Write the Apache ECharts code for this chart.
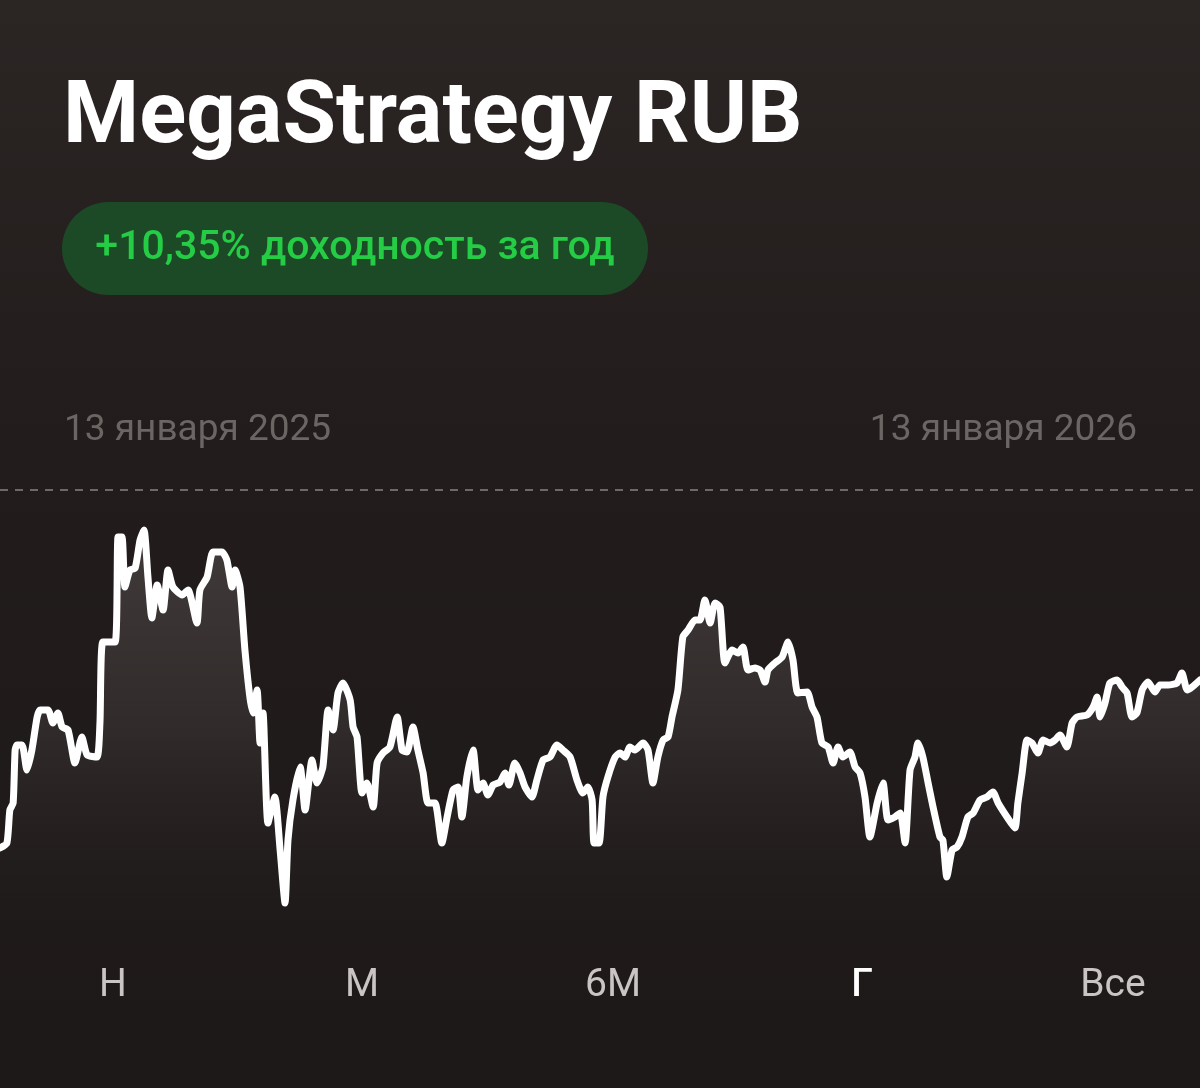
<!DOCTYPE html>
<html><head><meta charset="utf-8">
<script src="https://cdn.jsdelivr.net/npm/echarts@6/dist/echarts.min.js"></script>
<style>html,body{margin:0;padding:0;background:#221e1d;}#c{width:1200px;height:1088px;}</style>
</head><body><div id="c"></div>
<script>
// Day offsets from 13 Jan 2025 (0 .. 365)
const dayOffsets = [0,2.1,3.0,4.0,4.6,5.2,6.7,8.2,9.7,11.3,12.2,14.6,16.1,17.6,18.9,20.7,22.8,24.9,26.5,29.5,
30.4,31.3,35.0,35.9,37.1,38.0,39.5,41.1,42.6,43.8,45.0,46.2,47.8,49.6,51.1,52.6,55.4,57.2,59.9,60.8,
63.0,64.8,67.5,69.0,70.6,71.5,73.0,74.5,76.0,77.0,78.2,79.1,80.0,81.5,83.6,85.2,86.7,87.6,89.1,91.3,
92.8,94.9,96.4,98.2,99.8,101.3,102.8,104.3,106.5,107.4,108.6,110.1,111.6,113.5,114.7,116.5,118.6,120.8,122.3,123.8,
125.6,127.1,128.7,130.2,132.3,134.4,136.0,137.8,139.3,140.5,142.0,143.9,145.4,146.9,148.4,150.0,152.1,153.6,154.8,156.6,
158.2,159.7,161.8,163.3,165.2,167.3,169.4,171.2,173.4,175.5,177.3,178.8,180.1,180.7,182.2,183.4,184.9,187.1,188.6,190.1,
191.6,193.1,195.6,197.1,198.6,200.1,201.7,203.2,204.4,206.2,207.7,209.3,211.4,212.9,214.4,216.0,217.5,219.0,220.5,222.7,
224.5,226.0,227.5,229.6,231.2,232.7,233.6,235.7,237.9,239.7,241.2,242.7,245.5,247.0,248.5,250.0,251.9,253.4,254.9,256.4,
258.5,260.1,261.6,263.1,264.6,266.8,268.6,270.1,272.2,273.8,275.3,276.8,278.3,279.2,280.7,282.3,283.8,285.9,286.8,288.0,
289.6,291.1,292.6,294.4,296.0,298.1,300.2,302.0,303.6,306.3,308.7,309.6,310.9,312.4,313.9,315.7,317.3,319.4,320.9,322.4,
324.5,326.1,327.6,330.6,332.5,333.7,334.6,336.1,337.6,339.8,341.3,342.8,344.3,345.8,347.4,349.2,351.3,352.8,355.3,358.0,
359.5,361.1,362.6,365];
// Strategy value (RUB)
const values = [162.3,162.8,166.1,166.8,172.1,172.6,172.6,170.1,172.1,175.4,176.1,176.1,174.8,175.8,174.4,174.1,170.8,173.4,171.6,171.4,
174.8,182.9,182.9,193.4,193.4,188.4,190.1,190.3,193.1,194.1,189.4,185.3,188.6,186.1,190.1,188.4,187.6,188.1,184.8,188.1,
189.4,191.9,191.9,191.1,188.4,190.1,188.4,182.1,177.4,175.8,178.1,172.8,175.8,164.8,167.4,162.1,156.8,163.1,167.1,170.4,
166.1,171.1,168.8,170.4,176.1,174.1,177.8,178.8,177.1,174.4,173.4,167.8,168.8,166.4,170.8,171.8,172.4,175.4,172.1,171.9,
174.4,172.1,169.8,166.8,166.8,162.8,165.4,168.1,168.4,165.4,169.4,172.1,168.1,168.8,167.6,168.6,168.9,169.8,168.6,170.8,
169.8,168.4,167.4,169.1,171.1,171.4,172.6,172.1,171.4,169.1,167.8,168.4,167.1,162.8,162.8,167.4,169.4,171.4,171.8,171.4,
172.4,172.1,172.8,172.1,168.8,171.4,173.1,173.4,175.4,178.1,183.4,184.1,185.1,185.1,187.1,184.8,186.8,186.4,180.8,182.1,
181.8,182.4,180.1,180.3,180.1,178.9,180.1,180.8,181.4,182.9,181.1,177.8,177.9,176.4,175.4,172.8,172.4,170.8,172.4,171.4,
171.9,170.4,169.8,167.4,163.4,166.8,168.8,165.1,165.4,165.8,162.8,170.1,171.4,172.8,171.4,168.8,166.4,163.4,163.1,159.4,
162.1,162.4,163.4,165.4,165.8,167.1,167.4,167.9,166.8,165.4,164.3,166.8,169.8,173.1,172.8,171.8,173.1,172.8,173.1,173.6,
172.4,174.8,175.4,175.6,176.4,177.4,175.4,176.8,178.8,179.1,178.4,177.8,175.4,175.8,178.1,178.9,177.9,178.6,178.6,178.8,
179.8,178.1,178.4,179.1];
const titleText = 'MegaStrategy RUB';
const returnText = '+10,35% доходность за год';
const dateLabels = ['13 января 2025', '13 января 2026'];
const periods = ['Н', 'М', '6М', 'Г', 'Все'];
const activePeriod = 'Г';

const chart = echarts.init(document.getElementById('c'), null, {renderer: 'canvas'});
const seriesData = dayOffsets.map((d, i) => [d, values[i]]);
const periodX = [113, 362, 613, 862, 1113];

const graphics = [
  {type: 'text', x: 63, y: 77, style: {text: titleText, fill: '#ffffff', font: 'bold 87px Roboto, "Noto Sans", sans-serif', verticalAlign: 'top'}},
  {type: 'rect', shape: {x: 62, y: 202, width: 586, height: 93, r: 46.5}, style: {fill: '#1d4a26'}},
  {type: 'text', x: 355, y: 249, style: {text: returnText, fill: '#25cc45', font: '500 41px Roboto, sans-serif', align: 'center', verticalAlign: 'middle'}},
  {type: 'text', x: 64, y: 431, style: {text: dateLabels[0], fill: '#6b6564', font: '37px Roboto, sans-serif', align: 'left', verticalAlign: 'middle'}},
  {type: 'text', x: 1137, y: 431, style: {text: dateLabels[1], fill: '#6b6564', font: '37px Roboto, sans-serif', align: 'right', verticalAlign: 'middle'}},
  {type: 'line', shape: {x1: 0, y1: 490, x2: 1200, y2: 490}, style: {stroke: '#6e6867', lineWidth: 2, lineDash: [8, 7]}}
];
periods.forEach((p, i) => {
  const active = p === activePeriod;
  graphics.push({type: 'text', x: periodX[i], y: 986, style: {text: p, fill: active ? '#ffffff' : '#c9c5c4', font: (active ? '500 ' : '') + '39px Roboto, sans-serif', align: 'center', verticalAlign: 'middle'}});
});

chart.setOption({
  backgroundColor: new echarts.graphic.LinearGradient(0, 0, 0, 1, [
    {offset: 0, color: '#2b2524'}, {offset: 0.4, color: '#221d1c'}, {offset: 1, color: '#1d1918'}
  ]),
  animation: false,
  grid: {left: 0, right: 0, top: 471, bottom: 167},
  xAxis: {type: 'value', min: 0, max: 365, show: false},
  yAxis: {type: 'value', min: 155, max: 200, show: false},
  series: [{
    type: 'line',
    data: seriesData,
    showSymbol: false,
    smooth: 0.2,
    lineStyle: {color: '#ffffff', width: 7, join: 'round', cap: 'round'},
    areaStyle: {
      origin: 'start',
      color: new echarts.graphic.LinearGradient(0, 0, 0, 1, [
        {offset: 0, color: '#4d4746'},
        {offset: 0.5, color: '#383332'},
        {offset: 1, color: 'rgba(32,28,27,0.3)'}
      ])
    }
  }],
  graphic: graphics
});
</script>
</body></html>
